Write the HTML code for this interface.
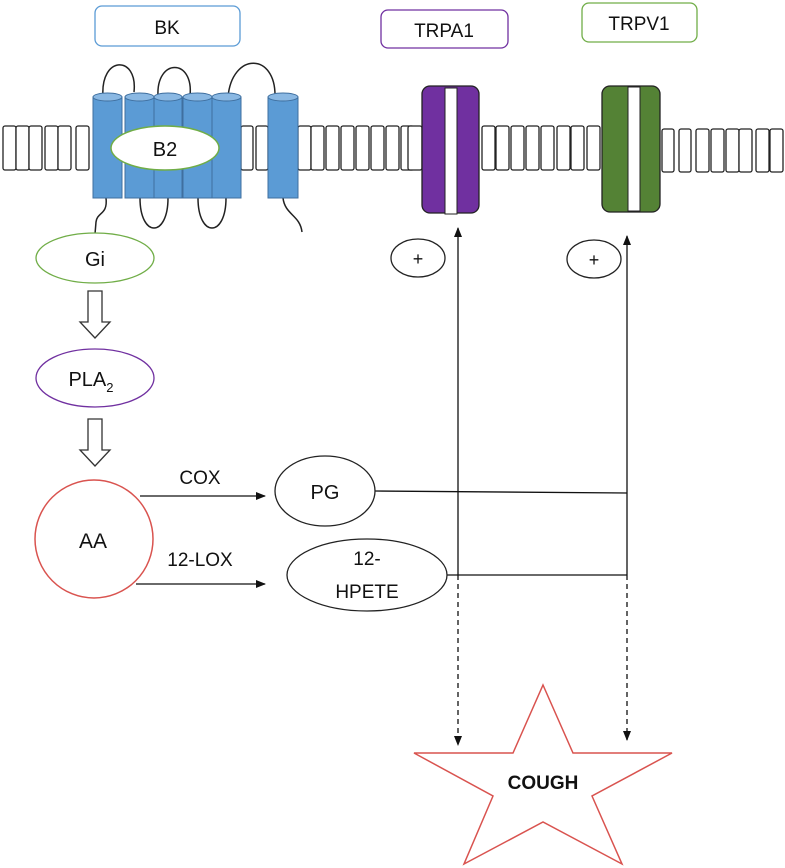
<!DOCTYPE html>
<html><head><meta charset="utf-8"><style>
body{margin:0;background:#fff}
svg{display:block}
text{font-family:"Liberation Sans",sans-serif;fill:#111}
</style></head><body>
<svg width="785" height="868" viewBox="0 0 785 868" xmlns="http://www.w3.org/2000/svg">
<defs>
<marker id="ah" markerWidth="10" markerHeight="10" refX="9" refY="5" orient="auto" markerUnits="userSpaceOnUse"><path d="M0,1 L10,5 L0,9 z" fill="#111"/></marker>
</defs>
<!-- membrane rects -->
<g fill="#fff" stroke="#222" stroke-width="1.3">
<rect x="3" y="126" width="13" height="44" rx="2"/><rect x="16" y="126" width="13" height="44" rx="2"/><rect x="29" y="126" width="13" height="44" rx="2"/><rect x="45" y="126" width="13" height="44" rx="2"/><rect x="58" y="126" width="13" height="44" rx="2"/><rect x="76" y="126" width="13" height="44" rx="2"/>
<rect x="241" y="126" width="12" height="44" rx="2"/><rect x="256" y="126" width="12" height="44" rx="2"/>
<rect x="298" y="126" width="13" height="44" rx="2"/><rect x="311" y="126" width="13" height="44" rx="2"/><rect x="326" y="126" width="13" height="44" rx="2"/><rect x="341" y="126" width="13" height="44" rx="2"/><rect x="356" y="126" width="13" height="44" rx="2"/><rect x="371" y="126" width="13" height="44" rx="2"/><rect x="386" y="126" width="13" height="44" rx="2"/><rect x="401" y="126" width="13" height="44" rx="2"/><rect x="408" y="126" width="14" height="44" rx="2"/>
<rect x="482" y="126" width="13" height="44" rx="2"/><rect x="496" y="126" width="13" height="44" rx="2"/><rect x="511" y="126" width="13" height="44" rx="2"/><rect x="526" y="126" width="13" height="44" rx="2"/><rect x="541" y="126" width="13" height="44" rx="2"/><rect x="557" y="126" width="13" height="44" rx="2"/><rect x="571" y="126" width="13" height="44" rx="2"/><rect x="587" y="126" width="13" height="44" rx="2"/>
<rect x="662" y="129" width="12" height="43" rx="2"/><rect x="679" y="129" width="12" height="43" rx="2"/><rect x="696" y="129" width="13" height="43" rx="2"/><rect x="711" y="129" width="13" height="43" rx="2"/><rect x="726" y="129" width="13" height="43" rx="2"/><rect x="739" y="129" width="13" height="43" rx="2"/><rect x="756" y="129" width="13" height="43" rx="2"/><rect x="770" y="129" width="13" height="43" rx="2"/>
</g>
<!-- loops -->
<g fill="none" stroke="#222" stroke-width="1.5">
<path d="M103,97 C100,55 138,55 134,92"/>
<path d="M158,96 C156,58 194,58 190,96"/>
<path d="M228,97 C232,52 276,52 275,97"/>
<path d="M140,198 C140,238 168,238 168,198"/>
<path d="M198,198 C198,238 226,238 226,198"/>
<path d="M106,198 C108,215 97,212 96,222 L95,234"/>
<path d="M283,198 C285,215 300,215 302,232"/>
</g>
<!-- cylinders -->
<g stroke="#3f6f9f" stroke-width="1">
<rect x="93" y="97" width="29" height="101" fill="#5b9bd5"/><ellipse cx="107.5" cy="97" rx="14.5" ry="4" fill="#8ab8e3"/>
<rect x="125" y="97" width="29" height="101" fill="#5b9bd5"/><ellipse cx="139.5" cy="97" rx="14.5" ry="4" fill="#8ab8e3"/>
<rect x="154" y="97" width="28" height="101" fill="#5b9bd5"/><ellipse cx="168" cy="97" rx="14" ry="4" fill="#8ab8e3"/>
<rect x="183" y="97" width="29" height="101" fill="#5b9bd5"/><ellipse cx="197.5" cy="97" rx="14.5" ry="4" fill="#8ab8e3"/>
<rect x="212" y="97" width="29" height="101" fill="#5b9bd5"/><ellipse cx="226.5" cy="97" rx="14.5" ry="4" fill="#8ab8e3"/>
<rect x="268" y="97" width="30" height="101" fill="#5b9bd5"/><ellipse cx="283" cy="97" rx="15" ry="4" fill="#8ab8e3"/>
</g>
<ellipse cx="165" cy="148" rx="54" ry="22" fill="#fff" stroke="#70ad47" stroke-width="1.5"/>
<text x="165" y="156" font-size="20" text-anchor="middle">B2</text>
<!-- top boxes -->
<rect x="95" y="6" width="145" height="40" rx="7" fill="#fff" stroke="#5b9bd5" stroke-width="1.3"/>
<text x="167" y="34" font-size="19" text-anchor="middle">BK</text>
<rect x="381" y="10" width="127" height="38" rx="7" fill="#fff" stroke="#7030a0" stroke-width="1.3"/>
<text x="444" y="37" font-size="19" text-anchor="middle">TRPA1</text>
<rect x="582" y="3" width="115" height="39" rx="7" fill="#fff" stroke="#70ad47" stroke-width="1.3"/>
<text x="639" y="30" font-size="19" text-anchor="middle">TRPV1</text>
<!-- channels -->
<rect x="422" y="86" width="57" height="127" rx="8" fill="#7030a0" stroke="#222" stroke-width="1.3"/>
<rect x="445" y="88" width="12" height="126" fill="#fff" stroke="#222" stroke-width="1"/>
<rect x="602" y="86" width="58" height="126" rx="8" fill="#548235" stroke="#222" stroke-width="1.3"/>
<rect x="628" y="87" width="12" height="124" fill="#fff" stroke="#222" stroke-width="1"/>
<!-- plus -->
<ellipse cx="418" cy="258" rx="27" ry="19" fill="#fff" stroke="#222" stroke-width="1.3"/>
<text x="418" y="265" font-size="18" text-anchor="middle">+</text>
<ellipse cx="594" cy="259" rx="27" ry="19" fill="#fff" stroke="#222" stroke-width="1.3"/>
<text x="594" y="266" font-size="18" text-anchor="middle">+</text>
<!-- left chain -->
<ellipse cx="95" cy="258" rx="59" ry="25" fill="#fff" stroke="#70ad47" stroke-width="1.3"/>
<text x="95" y="266" font-size="20" text-anchor="middle">Gi</text>
<path d="M88,291 H102 V322 H110 L95,338 L80,322 H88 Z" fill="#fff" stroke="#333" stroke-width="1.3"/>
<ellipse cx="95" cy="378" rx="59" ry="29" fill="#fff" stroke="#7030a0" stroke-width="1.3"/>
<text x="91" y="386" font-size="20" text-anchor="middle">PLA<tspan font-size="13" dy="6">2</tspan></text>
<path d="M88,419 H102 V450 H110 L95,466 L80,450 H88 Z" fill="#fff" stroke="#333" stroke-width="1.3"/>
<circle cx="94" cy="539" r="59" fill="#fff" stroke="#d9534f" stroke-width="1.5"/>
<text x="93" y="548" font-size="21" text-anchor="middle">AA</text>
<!-- arrows -->
<g stroke="#111" stroke-width="1.3" fill="none">
<line x1="140" y1="496" x2="265" y2="496" marker-end="url(#ah)"/>
<line x1="136" y1="584" x2="265" y2="584" marker-end="url(#ah)"/>
<line x1="458" y1="575" x2="458" y2="228" marker-end="url(#ah)"/>
<line x1="627" y1="575" x2="627" y2="236" marker-end="url(#ah)"/>
<line x1="375" y1="491" x2="627" y2="493"/>
<line x1="447" y1="575" x2="627" y2="575"/>
<line x1="458" y1="575" x2="458" y2="745" stroke-dasharray="5,4" marker-end="url(#ah)"/>
<line x1="627" y1="575" x2="627" y2="740" stroke-dasharray="5,4" marker-end="url(#ah)"/>
</g>
<text x="200" y="484" font-size="19" text-anchor="middle">COX</text>
<text x="200" y="566" font-size="19" text-anchor="middle">12-LOX</text>
<ellipse cx="325" cy="491" rx="50" ry="35" fill="#fff" stroke="#222" stroke-width="1.3"/>
<text x="325" y="499" font-size="20" text-anchor="middle">PG</text>
<ellipse cx="367" cy="575" rx="80" ry="36" fill="#fff" stroke="#222" stroke-width="1.3"/>
<text x="367" y="565" font-size="19" text-anchor="middle">12-</text>
<text x="367" y="598" font-size="19" text-anchor="middle">HPETE</text>
<!-- star -->
<polygon points="543,685 573,753 672,753 592,796 622,864 543,822 464,864 493,796 414,753 513,753" fill="#fff" stroke="#d9534f" stroke-width="1.5"/>
<text x="543" y="789" font-size="19" font-weight="bold" text-anchor="middle">COUGH</text>
</svg>
</body></html>
